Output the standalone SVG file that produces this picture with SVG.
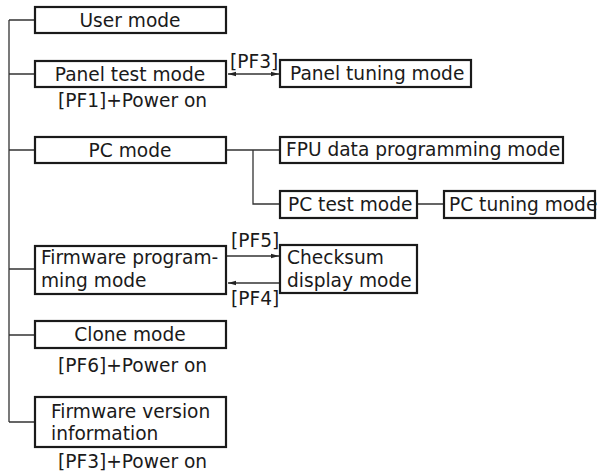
<svg xmlns="http://www.w3.org/2000/svg" width="598" height="474" viewBox="0 0 598 474">
<style>
.box{fill:#fff;stroke:#1a1a1a;stroke-width:2.2}
.ln{fill:none;stroke:#333;stroke-width:1.3}
text{font-family:"DejaVu Sans",sans-serif;font-size:18.6px;fill:#1a1a1a}
.c{text-anchor:middle}
</style>
<defs>
<marker id="ah" markerWidth="8" markerHeight="6" refX="8" refY="3" orient="auto" markerUnits="userSpaceOnUse">
<path d="M0,0.8 L8,3 L0,5.2 Z" fill="#222"/>
</marker>
<marker id="as" markerWidth="8" markerHeight="6" refX="0" refY="3" orient="auto" markerUnits="userSpaceOnUse">
<path d="M8,0.8 L0,3 L8,5.2 Z" fill="#222"/>
</marker>
</defs>
<g id="connectors">
<path class="ln" d="M9,20 V422 M9,20 H35 M9,74 H35 M9,150 H35 M9,269 H35 M9,335 H35 M9,422 H35"/>
<path class="ln" d="M226,150 H280 M253,150 V204 H280 M417,204 H444"/>
<path class="ln" d="M228,74 H279" marker-start="url(#as)" marker-end="url(#ah)"/>
<path class="ln" d="M227,256 H279" marker-end="url(#ah)"/>
<path class="ln" d="M280,283 H228" marker-end="url(#ah)"/>
<text x="230" y="68">[PF3]</text>
<text x="231" y="247">[PF5]</text>
<text x="231" y="305">[PF4]</text>
</g>
<g id="user-mode"><rect class="box" x="35" y="7" width="191" height="26"/><text class="c" x="130" y="27">User mode</text></g>
<g id="panel-test-mode"><rect class="box" x="35" y="61" width="191" height="26"/><text class="c" x="130" y="81">Panel test mode</text><text x="58" y="107">[PF1]+Power on</text></g>
<g id="panel-tuning-mode"><rect class="box" x="280" y="60" width="191" height="27"/><text x="290" y="80">Panel tuning mode</text></g>
<g id="pc-mode"><rect class="box" x="35" y="137" width="191" height="26"/><text class="c" x="130" y="157">PC mode</text></g>
<g id="fpu-mode"><rect class="box" x="280" y="137" width="283" height="26"/><text x="286" y="156">FPU data programming mode</text></g>
<g id="pc-test-mode"><rect class="box" x="280" y="191" width="137" height="27"/><text x="288" y="211">PC test mode</text></g>
<g id="pc-tuning-mode"><rect class="box" x="444" y="191" width="151" height="27"/><text x="449" y="211">PC tuning mode</text></g>
<g id="firmware-programming-mode"><rect class="box" x="35" y="246" width="191" height="48"/><text x="41" y="264">Firmware program-</text><text x="41" y="287">ming mode</text></g>
<g id="checksum-display-mode"><rect class="box" x="280" y="245" width="137" height="48"/><text x="287" y="264">Checksum</text><text x="287" y="287">display mode</text></g>
<g id="clone-mode"><rect class="box" x="35" y="321" width="191" height="27"/><text class="c" x="130" y="341">Clone mode</text><text x="58" y="372">[PF6]+Power on</text></g>
<g id="firmware-version-information"><rect class="box" x="35" y="397" width="191" height="50"/><text x="51" y="418">Firmware version</text><text x="51" y="440">information</text><text x="58" y="468">[PF3]+Power on</text></g>
</svg>
